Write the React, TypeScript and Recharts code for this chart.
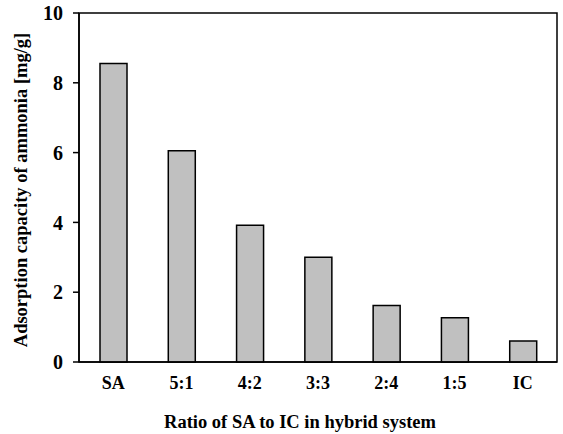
import { Bar, BarChart, ReferenceArea, XAxis, YAxis } from 'recharts';

// Ammonia adsorption capacity per SA:IC ratio in the hybrid system
const ratios = ['SA', '5:1', '4:2', '3:3', '2:4', '1:5', 'IC'];
const capacity = [8.55, 6.05, 3.92, 3.0, 1.62, 1.27, 0.6];
const yTicks = [0, 2, 4, 6, 8, 10];

const data = ratios.map((ratio, i) => ({ ratio, capacity: capacity[i] }));

const FONT = '"Liberation Serif", "Times New Roman", serif';

const App = () => {
  return (
    <div style={{ position: 'absolute', left: 0, top: 0, background: '#fff' }}>
      <BarChart
        width={563}
        height={434}
        data={data}
        margin={{ top: 13, right: 6, left: 0, bottom: 0 }}
      >
        <XAxis
          dataKey="ratio"
          height={72}
          tickLine={false}
          tickSize={0}
          tickMargin={14}
          stroke="#000"
          strokeWidth={1.5}
          tick={{ fontSize: 18, fontWeight: 'bold', fill: '#000', fontFamily: FONT }}
        />
        <YAxis
          domain={[0, 10]}
          ticks={yTicks}
          width={79}
          tickSize={6}
          tickMargin={10}
          stroke="#000"
          strokeWidth={1.5}
          tick={{ fontSize: 20, fontWeight: 'bold', fill: '#000', fontFamily: FONT }}
        />
        {/* box around the plot area */}
        <ReferenceArea y1={0} y2={10} fill="none" stroke="#000" strokeWidth={1.5} fillOpacity={0} />
        <Bar dataKey="capacity" fill="#c0c0c0" stroke="#000" strokeWidth={1.5} isAnimationActive={false} barSize={27} />
        <text
          x={21}
          y={190}
          transform="rotate(-90, 21, 190)"
          textAnchor="middle"
          dominantBaseline="central"
          fontFamily={FONT}
          fontWeight="bold"
          fontSize={18.5}
          fill="#000"
        >
          Adsorption capacity of ammonia [mg/g]
        </text>
        <text
          x={300}
          y={422}
          textAnchor="middle"
          dominantBaseline="central"
          fontFamily={FONT}
          fontWeight="bold"
          fontSize={18.5}
          fill="#000"
        >
          Ratio of SA to IC in hybrid system
        </text>
      </BarChart>
    </div>
  );
};

export default App;
